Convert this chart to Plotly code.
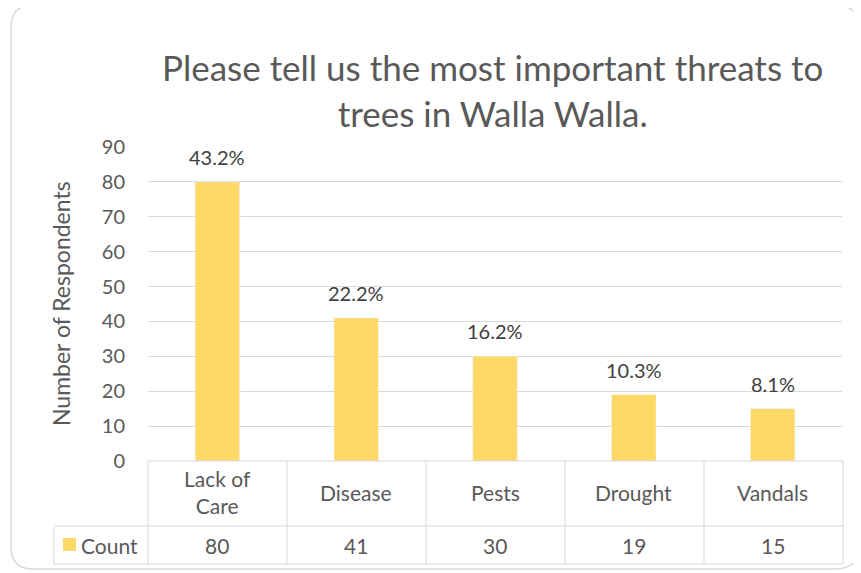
import plotly.graph_objects as go

categories = ["Lack of Care", "Disease", "Pests", "Drought", "Vandals"]
category_labels = ["Lack of<br>Care", "Disease", "Pests", "Drought", "Vandals"]
counts = [80, 41, 30, 19, 15]
percent_labels = ["43.2%", "22.2%", "16.2%", "10.3%", "8.1%"]
series_name = "Count"
title_text = "Please tell us the most important threats to<br>trees in Walla Walla."
y_title = "Number of Respondents"

OFF = 8  # page body margin
W, H = 861 - OFF, 573 - OFF
L, R, T, B = 148, 842, 147, 461  # plot area in screen pixels
BAR = "#FFD966"
GRID = "#d9d9d9"
TXT = "#595959"
FONT = "Lato"

def px(x):
    return (x - L) / (R - L)

def py(y):
    return (B - y) / (B - T)

fig = go.Figure(go.Bar(x=categories, y=counts, marker_color=BAR, width=0.32,
                       name=series_name, showlegend=False))

shapes = []
x0, x1, y0, y1, r = 11, 858, 5, 569, 22
path = (f"M {px(x0+r)},{py(y0)} L {px(x1-r)},{py(y0)} Q {px(x1)},{py(y0)} {px(x1)},{py(y0+r)} "
        f"L {px(x1)},{py(y1-r)} Q {px(x1)},{py(y1)} {px(x1-r)},{py(y1)} "
        f"L {px(x0+r)},{py(y1)} Q {px(x0)},{py(y1)} {px(x0)},{py(y1-r)} "
        f"L {px(x0)},{py(y0+r)} Q {px(x0)},{py(y0)} {px(x0+r)},{py(y0)} Z")
shapes.append(dict(type="path", xref="paper", yref="paper", path=path,
                   line=dict(color="#d9d9d9", width=1.5), layer="below"))

n = len(categories)
cw = (R + 1 - L) / n
row1, row2, row3 = 461, 526, 564
shapes.append(dict(type="line", xref="paper", yref="paper", x0=px(L), x1=px(R + 1), y0=py(row1), y1=py(row1), line=dict(color=GRID, width=1)))
for yy in (row2, row3):
    shapes.append(dict(type="line", xref="paper", yref="paper", x0=px(54), x1=px(R + 1), y0=py(yy), y1=py(yy), line=dict(color=GRID, width=1)))
for i in range(n + 1):
    xx = L + i * cw
    shapes.append(dict(type="line", xref="paper", yref="paper", x0=px(xx), x1=px(xx), y0=py(row1), y1=py(row3), line=dict(color=GRID, width=1)))
shapes.append(dict(type="line", xref="paper", yref="paper", x0=px(54), x1=px(54), y0=py(row2), y1=py(row3), line=dict(color=GRID, width=1)))
shapes.append(dict(type="rect", xref="paper", yref="paper", x0=px(63), x1=px(76), y0=py(551), y1=py(538),
                   fillcolor=BAR, line=dict(width=0)))

annotations = []
for c, lab, v, p in zip(categories, category_labels, counts, percent_labels):
    annotations.append(dict(x=c, y=v, xref="x", yref="y", text=p, showarrow=False,
                            yanchor="bottom", yshift=11, font=dict(size=20, color="#404040", family=FONT)))
    annotations.append(dict(x=c, y=py(492), xref="x", yref="paper", text=lab, showarrow=False,
                            yanchor="middle", font=dict(size=21, color=TXT, family=FONT)))
    annotations.append(dict(x=c, y=py(545), xref="x", yref="paper", text=str(v), showarrow=False,
                            yanchor="middle", font=dict(size=21, color=TXT, family=FONT)))
annotations.append(dict(x=px(79), y=py(545), xref="paper", yref="paper", text=series_name, showarrow=False,
                        xanchor="left", yanchor="middle", font=dict(size=21, color=TXT, family=FONT)))
annotations.append(dict(x=px(61), y=py(304), xref="paper", yref="paper", text=y_title, showarrow=False,
                        textangle=-90, xanchor="center", yanchor="middle", font=dict(size=23, color=TXT, family=FONT)))
annotations.append(dict(x=px(492), y=py(90), xref="paper", yref="paper", text=title_text, showarrow=False,
                        xanchor="center", yanchor="middle", font=dict(size=35, color=TXT, family=FONT)))

fig.update_layout(
    width=W, height=H,
    margin=dict(l=L - OFF, r=W - (R - OFF), t=T - OFF, b=H - (B - OFF), pad=0),
    paper_bgcolor="white", plot_bgcolor="white",
    font=dict(family=FONT, color=TXT),
    shapes=shapes, annotations=annotations,
    xaxis=dict(showticklabels=False, showgrid=False, zeroline=False, showline=False, ticks=""),
    yaxis=dict(range=[0, 90], dtick=10, showgrid=True, gridcolor=GRID, gridwidth=1, zeroline=False,
               showline=False, ticks="", ticklabelstandoff=22,
               tickfont=dict(size=20, color=TXT, family=FONT)),
)

fig.write_html("out.html")
